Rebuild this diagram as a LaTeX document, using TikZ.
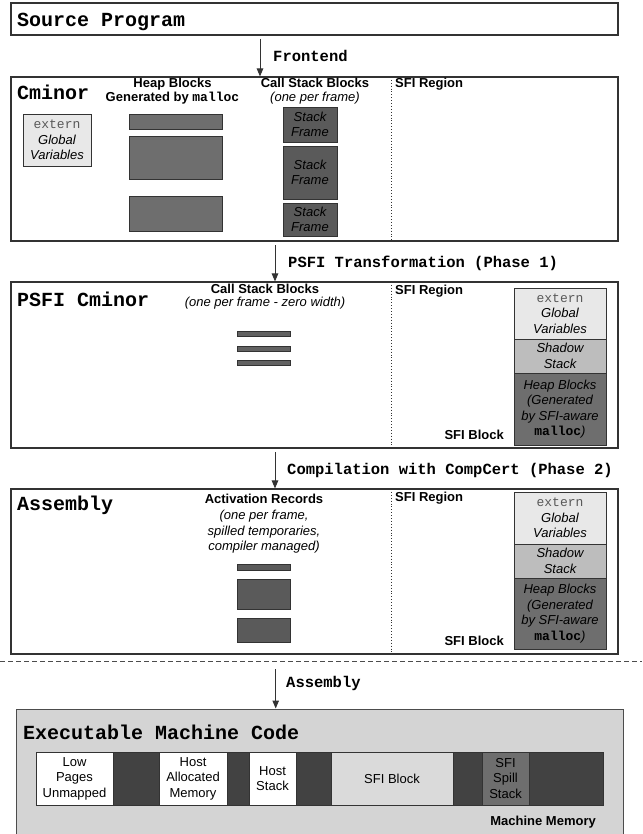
\documentclass[tikz,border=0pt]{standalone}
\usepackage{fontspec}
\setmainfont{Liberation Sans}
\newfontfamily\monofam{Liberation Mono}
\usetikzlibrary{fit,arrows.meta}
\definecolor{lightg}{HTML}{E8E8E8}
\definecolor{heapg}{HTML}{6E6E6E}
\definecolor{frameg}{HTML}{5A5A5A}
\definecolor{barg}{HTML}{626262}
\definecolor{shadowg}{HTML}{BDBDBD}
\definecolor{memdark}{HTML}{424242}
\definecolor{membg}{HTML}{D4D4D4}
\definecolor{sfiblk}{HTML}{DADADA}
\definecolor{edgec}{HTML}{333333}
\newcommand{\dgHead}{\monofam\bfseries\fontsize{20}{22}\selectfont}
\newcommand{\dgArrow}{\monofam\bfseries\fontsize{15.5}{17}\selectfont}
\newcommand{\dgSans}{\fontsize{13}{15.5}\selectfont}
\newcommand{\dgExt}{{\monofam\upshape\color{black!65}extern}}
\newcommand{\dgMal}{{\monofam\bfseries\upshape malloc}}
\begin{document}
\begin{tikzpicture}[x=1pt,y=-1pt,
  frame/.style={draw=edgec, line width=1.1pt, inner sep=0pt, fill=white},
  cell/.style={draw=edgec, line width=0.8pt, inner sep=0pt},
  celltext/.style={align=center, font=\dgSans, inner sep=0pt},
  itcelltext/.style={align=center, font=\dgSans\itshape, inner sep=0pt},
  flow/.style={draw=edgec, line width=1pt, -{Triangle[width=6.5pt,length=8pt]}},
  sfiline/.style={draw=edgec, dotted, line width=0.9pt},
  head/.style={anchor=base west, font=\dgHead, inner sep=0pt},
  steplabel/.style={anchor=base west, font=\dgArrow, inner sep=0pt},
  title/.style={anchor=base, font=\dgSans\bfseries, inner sep=0pt},
  sub/.style={anchor=base, font=\dgSans\itshape, inner sep=0pt},
  lbl/.style={font=\dgSans\bfseries, inner sep=0pt}
]
\useasboundingbox (0,0) rectangle (642,834);
\fill[white] (0,0) rectangle (642,834);

% ---------- Source Program ----------
\node[frame, fit={(11,3) (618,35)}] (src) {};
\node[head] (srct) at (17,26.5) {Source Program};

% ---------- Frontend arrow ----------
\coordinate (a1) at (260,39);
\node[steplabel] (a1t) at (273,61.7) {Frontend};

% ---------- Cminor ----------
\node[frame, fit={(11,77) (618,241)}] (cm) {};
\draw[flow] (a1) -- (a1 |- cm.north);
\node[head] (cmt) at (17,99.5) {Cminor};
\node[cell, fill=lightg, fit={(23,114) (91,166)}] (cmg) {};
\node[itcelltext] (cmgt) at (cmg.center) {\dgExt\\Global\\Variables};
\node[title] (cmh1) at (172.5,88) {Heap Blocks};
\node[title] (cmh2) at (172.5,102) {Generated by \dgMal};
\node[cell, fill=heapg, fit={(129,114) (222,129)}] (hb1) {};
\node[cell, fill=heapg, fit={(129,136) (222,179)}] (hb2) {};
\node[cell, fill=heapg, fit={(129,196) (222,231)}] (hb3) {};
\node[title] (cms1) at (315,88) {Call Stack Blocks};
\node[sub] (cms2) at (315,101.5) {(one per frame)};
\node[cell, fill=frameg, fit={(283,107) (337,142)}] (sf1) {};
\node[itcelltext] (sf1t) at (sf1.center) {Stack\\Frame};
\node[cell, fill=frameg, fit={(283,146) (337,199)}] (sf2) {};
\node[itcelltext] (sf2t) at (sf2.center) {Stack\\Frame};
\node[cell, fill=frameg, fit={(283,203) (337,236)}] (sf3) {};
\node[itcelltext] (sf3t) at (sf3.center) {Stack\\Frame};
\coordinate (cmd1) at (391,77);
\draw[sfiline] (cmd1) -- (cmd1 |- cm.south);
\node[lbl, anchor=base west] (cmr) at (395,87.5) {SFI Region};

% ---------- PSFI arrow ----------
\coordinate (a2) at (275,245);
\node[steplabel] (a2t) at (288,267.3) {PSFI Transformation (Phase 1)};

% ---------- PSFI Cminor ----------
\node[frame, fit={(11,282) (618,448)}] (ps) {};
\draw[flow] (a2) -- (a2 |- ps.north);
\node[head] (pst) at (17,306) {PSFI Cminor};
\node[title] (pss1) at (265,293) {Call Stack Blocks};
\node[sub] (pss2) at (265,306.5) {(one per frame - zero width)};
\node[cell, fill=barg, fit={(237,331) (290,336)}] (pb1) {};
\node[cell, fill=barg, fit={(237,346) (290,351)}] (pb2) {};
\node[cell, fill=barg, fit={(237,360.5) (290,365.5)}] (pb3) {};
\coordinate (psd1) at (391,282);
\draw[sfiline] (psd1) -- (psd1 |- ps.south);
\node[lbl, anchor=base west] (psr) at (395,294.5) {SFI Region};
\node[cell, fill=lightg, fit={(514,288) (606,339)}] (psg) {};
\node[itcelltext] (psgt) at (psg.center) {\dgExt\\Global\\Variables};
\node[cell, fill=shadowg, fit={(514,339) (606,373)}] (pssh) {};
\node[itcelltext] (pssht) at (pssh.center) {Shadow\\Stack};
\node[cell, fill=heapg, fit={(514,373) (606,445)}] (psh) {};
\node[itcelltext] (psht) at (psh.center) {Heap Blocks\\(Generated\\by SFI-aware\\\dgMal)};
\node[lbl, anchor=base east] (psb) at (504,439.5) {SFI Block};

% ---------- Compilation arrow ----------
\coordinate (a3) at (275,452);
\node[steplabel] (a3t) at (287,474) {Compilation with CompCert (Phase 2)};

% ---------- Assembly ----------
\node[frame, fit={(11,489) (618,654)}] (as) {};
\draw[flow] (a3) -- (a3 |- as.north);
\node[head] (ast) at (17,510.5) {Assembly};
\node[title] (asa1) at (264,503.3) {Activation Records};
\node[sub] (asa2) at (264,519) {(one per frame,};
\node[sub] (asa3) at (264,535) {spilled temporaries,};
\node[sub] (asa4) at (264,550.7) {compiler managed)};
\node[cell, fill=frameg, fit={(237,564) (290,570)}] (ar1) {};
\node[cell, fill=frameg, fit={(237,579) (290,609)}] (ar2) {};
\node[cell, fill=frameg, fit={(237,618) (290,642)}] (ar3) {};
\coordinate (asd1) at (391,489);
\draw[sfiline] (asd1) -- (asd1 |- as.south);
\node[lbl, anchor=base west] (asr) at (395,501) {SFI Region};
\node[cell, fill=lightg, fit={(514,492) (606,544)}] (asg) {};
\node[itcelltext] (asgt) at (asg.center) {\dgExt\\Global\\Variables};
\node[cell, fill=shadowg, fit={(514,544) (606,578)}] (assh) {};
\node[itcelltext] (assht) at (assh.center) {Shadow\\Stack};
\node[cell, fill=heapg, fit={(514,578) (606,649.5)}] (ash) {};
\node[itcelltext] (asht) at (ash.center) {Heap Blocks\\(Generated\\by SFI-aware\\\dgMal)};
\node[lbl, anchor=base east] (asb) at (504,645) {SFI Block};

% ---------- separator ----------
\coordinate (sepL) at (0,661.5);
\coordinate (sepR) at (642,661.5);
\draw[draw=black!70, line width=1pt, dash pattern=on 5pt off 3pt] (sepL) -- (sepR);

% ---------- Assembly arrow ----------
\coordinate (a4) at (275.7,669);
\node[steplabel] (a4t) at (286,687.5) {Assembly};

% ---------- Executable Machine Code ----------
\node[draw=black!70, fill=membg, line width=1pt, inner sep=0pt, fit={(16,709) (623,850)}] (ex) {};
\draw[flow] (a4) -- (a4 |- ex.north);
\node[head] (ext) at (23,739.5) {Executable Machine Code};
\node[cell, fill=white, fit={(36,752) (113,805)}] (m1) {};
\node[celltext] (m1t) at (m1.center) {Low\\Pages\\Unmapped};
\node[cell, fill=memdark, fit={(113,752) (159,805)}] (m2) {};
\node[cell, fill=white, fit={(159,752) (227,805)}] (m3) {};
\node[celltext] (m3t) at (m3.center) {Host\\Allocated\\Memory};
\node[cell, fill=memdark, fit={(227,752) (249,805)}] (m4) {};
\node[cell, fill=white, fit={(249,752) (296,805)}] (m5) {};
\node[celltext] (m5t) at (m5.center) {Host\\Stack};
\node[cell, fill=memdark, fit={(296,752) (331,805)}] (m6) {};
\node[cell, fill=sfiblk, fit={(331,752) (453,805)}] (m7) {};
\node[celltext] (m7t) at (m7.center) {SFI Block};
\node[cell, fill=memdark, fit={(453,752) (482,805)}] (m8) {};
\node[cell, fill=heapg, fit={(482,752) (529,805)}] (m9) {};
\node[celltext] (m9t) at (m9.center) {SFI\\Spill\\Stack};
\node[cell, fill=memdark, fit={(529,752) (603,805)}] (m10) {};
\node[lbl, anchor=base east] (mm) at (596,825) {Machine Memory};
\end{tikzpicture}
\end{document}
